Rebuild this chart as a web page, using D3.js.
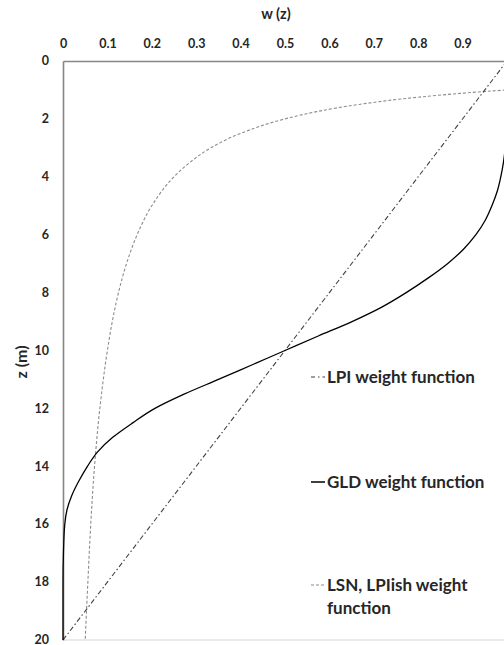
<!DOCTYPE html>
<html>
<head>
<meta charset="utf-8">
<script src="https://cdn.jsdelivr.net/npm/d3@7"></script>
<style>
  html, body { margin: 0; padding: 0; background: #fff; }
  svg { display: block; }
  text { font-family: Lato, "Open Sans", sans-serif; font-weight: bold; fill: #262626; }
</style>
</head>
<body>
<script>
// Depth (m) and weight w(z) for each weight function
const lpiDepth = [0, 20];
const lpiWeight = [1, 0];

const gldDepth = [0, 1, 2, 3, 3.5, 4, 4.5, 5, 5.5, 6, 6.5, 7, 7.5, 8, 8.5, 9, 9.5, 10,
                  10.5, 11, 11.5, 12, 12.5, 13, 13.5, 14, 14.5, 15, 15.5, 16, 17, 18, 19, 20];
const gldWeight = [1, 1, 0.999, 0.996, 0.992, 0.986, 0.978, 0.966, 0.951, 0.93, 0.902, 0.866,
                   0.822, 0.773, 0.718, 0.651, 0.575, 0.5, 0.425, 0.35, 0.274, 0.207, 0.157,
                   0.112, 0.078, 0.055, 0.036, 0.02, 0.009, 0.004, 0.001, 0, 0, 0];

const lsnDepth = [0.9, 1, 1.1, 1.25, 1.5, 1.75, 2, 2.5, 3, 3.5, 4, 5, 6, 7, 8, 9, 10,
                  12, 14, 16, 18, 20];
const lsnWeight = [1.11, 1, 0.91, 0.8, 0.667, 0.571, 0.5, 0.4, 0.333, 0.286, 0.25, 0.2,
                   0.167, 0.143, 0.125, 0.111, 0.1, 0.083, 0.071, 0.0625, 0.056, 0.05];

const xTicks = [0, 0.1, 0.2, 0.3, 0.4, 0.5, 0.6, 0.7, 0.8, 0.9];
const yTicks = [0, 2, 4, 6, 8, 10, 12, 14, 16, 18, 20];

const xTitle = "w (z)";
const yTitle = "z (m)";
const legendLabels = [["LPI weight function"], ["GLD weight function"], ["LSN, LPIish weight", "function"]];

const W = 504, H = 645;
const svg = d3.select("body").append("svg").attr("width", W).attr("height", H);

const x = d3.scaleLinear().domain([0, 1]).range([63, 507]);
const y = d3.scaleLinear().domain([0, 20]).range([61, 640]);

// bottom frame line (light)
svg.append("line")
  .attr("x1", x(0)).attr("x2", W).attr("y1", y(20)).attr("y2", y(20))
  .attr("stroke", "#e3e3e3").attr("stroke-width", 1.5);

// top axis
const gx = svg.append("g").attr("transform", `translate(0,${y(0)})`)
  .call(d3.axisTop(x).tickValues(xTicks).tickSize(0).tickPadding(13)
        .tickFormat(d => d === 0 ? "0" : d3.format(".1f")(d)));
gx.select(".domain").attr("stroke", "#868686").attr("stroke-width", 1.6);
gx.selectAll("text").attr("font-size", 12.5).style("font-family", "Lato, sans-serif")
  .style("font-weight", "bold").attr("fill", "#262626");

// left axis
const gy = svg.append("g").attr("transform", `translate(${x(0)},0)`)
  .call(d3.axisLeft(y).tickValues(yTicks).tickSize(0).tickPadding(14));
gy.select(".domain").attr("stroke", "#868686").attr("stroke-width", 1.6);
gy.selectAll("text").attr("font-size", 12.5).style("font-family", "Lato, sans-serif")
  .style("font-weight", "bold").attr("fill", "#262626").attr("dy", "0.3em");

// titles
svg.append("text").attr("x", 276).attr("y", 19).attr("text-anchor", "middle")
  .attr("font-size", 14.5).text(xTitle);
svg.append("text").attr("transform", "translate(27,362) rotate(-90)")
  .attr("text-anchor", "middle").attr("font-size", 16).text(yTitle);

const zip = (ds, ws) => ds.map((d, i) => ({ z: d, w: ws[i] }));
const line = d3.line().x(d => x(d.w)).y(d => y(d.z)).curve(d3.curveMonotoneY);

const styles = {
  lpi: { stroke: "#404040", width: 1.1, dash: "5,2.5,1.5,2.5" },
  gld: { stroke: "#000000", width: 1.3, dash: null },
  lsn: { stroke: "#8c8c8c", width: 1.1, dash: "3,2" }
};

const plot = svg.append("g");
[["lsn", lsnDepth, lsnWeight], ["lpi", lpiDepth, lpiWeight], ["gld", gldDepth, gldWeight]]
  .forEach(([k, ds, ws]) => {
    const s = styles[k];
    plot.append("path").datum(zip(ds, ws))
      .attr("d", line).attr("fill", "none")
      .attr("stroke", s.stroke).attr("stroke-width", s.width)
      .attr("stroke-dasharray", s.dash);
  });

// legend
const legendY = [383, 488, 591];
["lpi", "gld", "lsn"].forEach((k, i) => {
  const s = styles[k];
  svg.append("line")
    .attr("x1", 311).attr("x2", 325).attr("y1", legendY[i] - 6).attr("y2", legendY[i] - 6)
    .attr("stroke", s.stroke).attr("stroke-width", k === "gld" ? 1.5 : 1.2)
    .attr("stroke-dasharray", k === "lpi" ? "4,3,1.5,3" : s.dash);
  const t = svg.append("text").attr("x", 327).attr("y", legendY[i]).attr("font-size", 17);
  legendLabels[i].forEach((ln, j) => {
    t.append("tspan").attr("x", 327).attr("dy", j === 0 ? 0 : 23).text(ln);
  });
});
</script>
</body>
</html>
